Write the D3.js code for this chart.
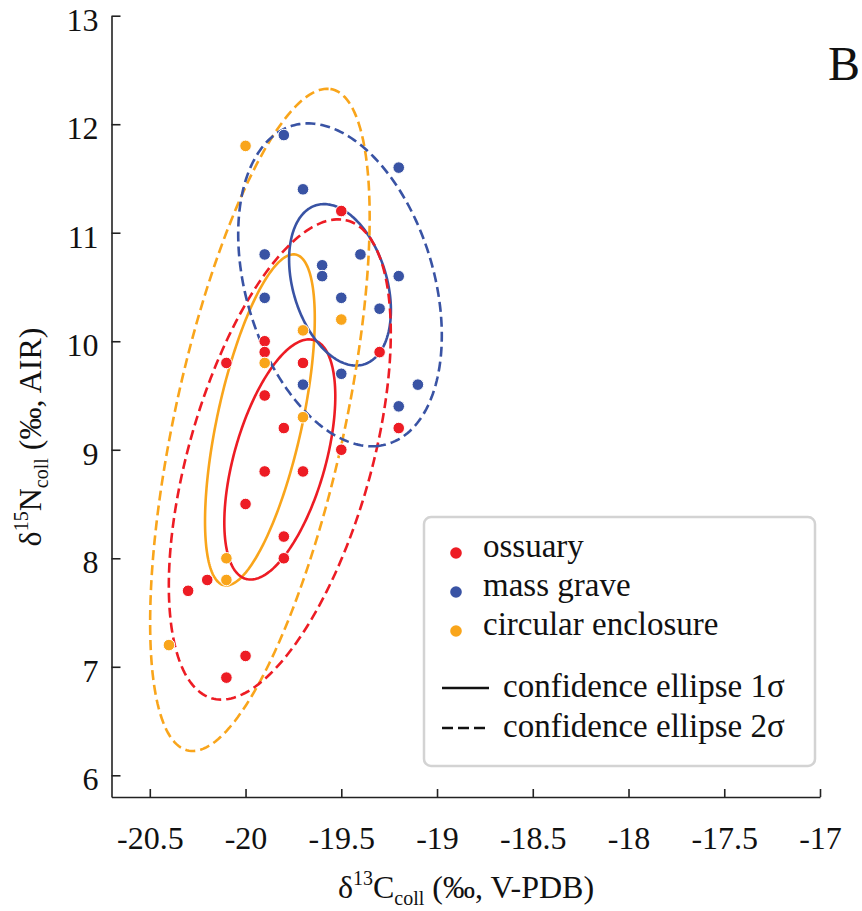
<!DOCTYPE html>
<html>
<head>
<meta charset="utf-8">
<script src="https://cdn.jsdelivr.net/npm/d3@7"></script>
<style>
  html, body { margin: 0; padding: 0; background: #fff; }
  svg { display: block; }
  svg text { font-family: "Liberation Serif", "Times New Roman", "DejaVu Serif", serif; }
</style>
</head>
<body>
<svg id="chart" width="862" height="911"></svg>
<script>
// ---- data ----
const groups = ["ossuary", "mass grave", "circular enclosure"];
const groupColors = ["#ed1c24", "#3953a4", "#f9a51b"];

const ossuaryC = [-19.5, -19.9, -19.9, -20.1, -19.7, -19.3, -19.9, -19.8, -19.2, -19.5, -19.9, -19.7, -20.0, -19.8, -19.8, -20.2, -20.3, -20.0, -20.1];
const ossuaryN = [11.2, 10.0, 9.9, 9.8, 9.8, 9.9, 9.5, 9.2, 9.2, 9.0, 8.8, 8.8, 8.5, 8.2, 8.0, 7.8, 7.7, 7.1, 6.9];

const massGraveC = [-19.8, -19.7, -19.2, -19.9, -19.4, -19.6, -19.6, -19.2, -19.9, -19.5, -19.3, -19.7, -19.5, -19.1, -19.2];
const massGraveN = [11.9, 11.4, 11.6, 10.8, 10.8, 10.7, 10.6, 10.6, 10.4, 10.4, 10.3, 9.6, 9.7, 9.6, 9.4];

const circularC = [-20.0, -19.7, -19.5, -19.9, -19.7, -20.1, -20.1, -20.4];
const circularN = [11.8, 10.1, 10.2, 9.8, 9.3, 8.0, 7.8, 7.2];

const xTicks = [-20.5, -20, -19.5, -19, -18.5, -18, -17.5, -17];
const yTicks = [6, 7, 8, 9, 10, 11, 12, 13];
const sigmaLevels = [1, 2];
const legendLineLabels = ["confidence ellipse 1σ", "confidence ellipse 2σ"];
const panelLabel = "B";

const SERIF = "'Liberation Serif', 'Times New Roman', 'DejaVu Serif', serif";

// ---- build series ----
const seriesC = [ossuaryC, massGraveC, circularC];
const seriesN = [ossuaryN, massGraveN, circularN];
const series = groups.map((g, i) => ({
  name: g,
  color: groupColors[i],
  points: seriesC[i].map((c, j) => ({ c: c, n: seriesN[i][j] }))
}));

// ---- layout ----
const svg = d3.select("#chart");
const x = d3.scaleLinear().domain([-20.7, -17]).range([111.5, 820]);
const y = d3.scaleLinear().domain([5.8, 13]).range([797, 15.7]);

// ---- confidence ellipses (computed from the data: sample covariance) ----
function ellipsePoints(pts, k) {
  const n = pts.length;
  const mx = d3.mean(pts, p => p.c), my = d3.mean(pts, p => p.n);
  let a = 0, b = 0, c = 0;
  pts.forEach(p => {
    const dx = p.c - mx, dy = p.n - my;
    a += dx * dx; b += dx * dy; c += dy * dy;
  });
  a /= (n - 1); b /= (n - 1); c /= (n - 1);
  const tr = (a + c) / 2, dd = Math.sqrt(((a - c) / 2) ** 2 + b * b);
  const l1 = tr + dd, l2 = Math.max(tr - dd, 0);
  const th = 0.5 * Math.atan2(2 * b, a - c);
  const e1 = [Math.cos(th), Math.sin(th)], e2 = [-Math.sin(th), Math.cos(th)];
  const out = [];
  const N = 240;
  for (let i = 0; i < N; i++) {
    const t = 2 * Math.PI * i / N;
    const u = k * Math.sqrt(l1) * Math.cos(t), v = k * Math.sqrt(l2) * Math.sin(t);
    out.push([mx + u * e1[0] + v * e2[0], my + u * e1[1] + v * e2[1]]);
  }
  return out;
}

const line = d3.line().x(d => x(d[0])).y(d => y(d[1])).curve(d3.curveLinearClosed);

const ellG = svg.append("g").attr("class", "ellipses");
const drawOrder = [2, 0, 1];
sigmaLevels.forEach(k => {
  drawOrder.forEach(i => {
    const s = series[i];
    ellG.append("path")
      .attr("d", line(ellipsePoints(s.points, k)))
      .attr("fill", "none")
      .attr("stroke", s.color)
      .attr("stroke-width", 2.6)
      .attr("stroke-dasharray", k === 2 ? "10,5" : null);
  });
});

// ---- points ----
const ptG = svg.append("g").attr("class", "points");
series.forEach(s => {
  ptG.selectAll(null).data(s.points).enter().append("circle")
    .attr("cx", d => x(d.c))
    .attr("cy", d => y(d.n))
    .attr("r", 5.8)
    .attr("fill", s.color)
    .attr("stroke", "#fff")
    .attr("stroke-width", 1);
});

// ---- axes ----
const axG = svg.append("g").attr("class", "axes");
const xAxis = d3.axisBottom(x).tickValues(xTicks).tickSizeInner(-8).tickSizeOuter(0).tickPadding(29).tickFormat(d => String(d));
const gx = axG.append("g").attr("transform", `translate(0,${y.range()[0]})`).call(xAxis);
gx.attr("font-family", null);
gx.select(".domain").attr("stroke", "#222").attr("stroke-width", 1.6);
gx.selectAll(".tick line").attr("stroke", "#222").attr("stroke-width", 1.6);
gx.selectAll(".tick text").attr("font-size", 32).attr("fill", "#111")
  .style("font-family", SERIF).attr("dy", "0.71em");

const yAxis = d3.axisLeft(y).tickValues(yTicks).tickSizeInner(-9).tickSizeOuter(0).tickPadding(13).tickFormat(d => String(d));
const gy = axG.append("g").attr("transform", `translate(${x.range()[0]},0)`).call(yAxis);
gy.attr("font-family", null);
gy.select(".domain").attr("stroke", "#222").attr("stroke-width", 1.6);
gy.selectAll(".tick line").attr("stroke", "#222").attr("stroke-width", 1.6);
gy.selectAll(".tick text").attr("font-size", 32).attr("fill", "#111")
  .style("font-family", SERIF).attr("dy", "0.45em");

// ---- axis titles ----
const xt = svg.append("text")
  .attr("x", 466).attr("y", 898)
  .attr("text-anchor", "middle").attr("font-size", 32).attr("fill", "#111")
  .style("font-family", SERIF);
xt.append("tspan").text("δ");
xt.append("tspan").attr("font-size", 20).attr("dy", -13).text("13");
xt.append("tspan").attr("dy", 13).text("C");
xt.append("tspan").attr("font-size", 20).attr("dy", 7).text("coll");
xt.append("tspan").attr("dy", -7).text(" (‰, V-PDB)");

const yt = svg.append("text")
  .attr("transform", "translate(41,437) rotate(-90)")
  .attr("text-anchor", "middle").attr("font-size", 32).attr("fill", "#111")
  .style("font-family", SERIF);
yt.append("tspan").text("δ");
yt.append("tspan").attr("font-size", 20).attr("dy", -13).text("15");
yt.append("tspan").attr("dy", 13).text("N");
yt.append("tspan").attr("font-size", 20).attr("dy", 7).text("coll");
yt.append("tspan").attr("dy", -7).text(" (‰, AIR)");

// ---- panel label ----
svg.append("text").attr("x", 828).attr("y", 80)
  .attr("font-size", 48).attr("fill", "#111").style("font-family", SERIF).text(panelLabel);

// ---- legend ----
const lg = svg.append("g").attr("class", "legend");
lg.append("rect").attr("x", 424).attr("y", 517).attr("width", 391).attr("height", 249)
  .attr("rx", 7).attr("fill", "#fff").attr("stroke", "#d3d3d3").attr("stroke-width", 2.5);
series.forEach((s, i) => {
  const yy = 553 + i * 39;
  lg.append("circle").attr("cx", 456).attr("cy", yy).attr("r", 5.8).attr("fill", s.color);
  lg.append("text").attr("x", 483).attr("y", yy + 4).attr("font-size", 33).attr("fill", "#111")
    .style("font-family", SERIF).text(s.name);
});
legendLineLabels.forEach((lab, i) => {
  const yy = 688 + i * 40;
  lg.append("line").attr("x1", 442).attr("x2", 489).attr("y1", yy).attr("y2", yy)
    .attr("stroke", "#111").attr("stroke-width", 2.6)
    .attr("stroke-dasharray", i === 1 ? "11,5" : null);
  lg.append("text").attr("x", 503).attr("y", yy + 9).attr("font-size", 33).attr("fill", "#111")
    .style("font-family", SERIF).text(lab);
});
</script>
</body>
</html>
